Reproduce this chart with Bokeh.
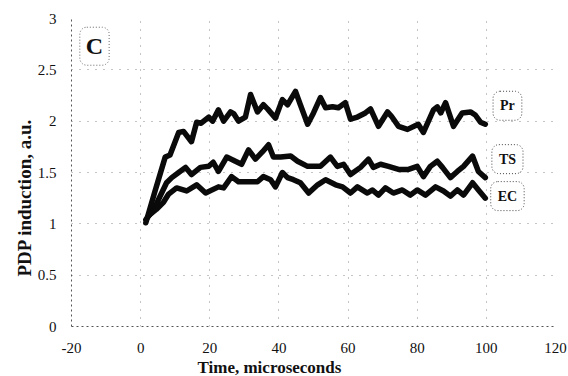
from bokeh.plotting import figure
from bokeh.models import Label, Title, FixedTicker, NumeralTickFormatter, Range1d
from bokeh.embed import file_html
from bokeh.resources import INLINE

# ---- data ----
pr_x = [1.5, 4, 7.1, 8.5, 11, 12.4, 14.7, 16.2, 17.5, 19.7, 20.8, 22.5, 24, 26, 27,
        28.3, 30.3, 31.8, 33.8, 35.5, 36.7, 39, 41, 42.5, 44.8, 46.2, 48.3, 50, 52, 53.5,
        55.5, 57.2, 59.2, 60.7, 62.7, 65, 66.5, 68.8, 71.4, 72.5, 74.6, 77.2, 80.3, 81.8,
        84.7, 85.8, 86.8, 88.2, 90.5, 93, 95.4, 96.8, 98.3, 99.7]
pr_y = [1.01, 1.30, 1.65, 1.67, 1.89, 1.90, 1.80, 1.99, 1.98, 2.04, 2.00, 2.11, 2.00, 2.09, 2.07,
        2.00, 2.04, 2.26, 2.09, 2.16, 2.12, 2.03, 2.21, 2.16, 2.29, 2.16, 1.97, 2.08, 2.23, 2.13,
        2.14, 2.13, 2.18, 2.02, 2.04, 2.08, 2.12, 1.95, 2.09, 2.05, 1.95, 1.92, 1.97, 1.89,
        2.11, 2.14, 2.08, 2.18, 1.95, 2.08, 2.09, 2.06, 1.99, 1.97]

ts_x = [1.5, 4, 5.2, 7.5, 9, 11, 13, 14.7, 17.3, 19.7, 21, 22.5, 24.9, 27.4, 29.2,
        31.2, 33.2, 35.2, 37, 38.4, 40.5, 43.4, 45.4, 48.3, 52, 54.9, 56.9, 58.7, 60.7, 63.6,
        65.9, 67.3, 69.4, 71.7, 74.6, 77.5, 80, 81.8, 83.8, 85.8, 87.3, 89.6, 91.6, 93.4, 96,
        97.7, 99.7]
ts_y = [1.04, 1.15, 1.24, 1.40, 1.45, 1.50, 1.55, 1.48, 1.55, 1.56, 1.60, 1.51, 1.65, 1.61, 1.58,
        1.72, 1.63, 1.70, 1.77, 1.65, 1.65, 1.66, 1.61, 1.56, 1.56, 1.65, 1.56, 1.58, 1.48, 1.55,
        1.63, 1.55, 1.58, 1.56, 1.53, 1.53, 1.56, 1.46, 1.56, 1.61, 1.55, 1.45, 1.51, 1.56, 1.66,
        1.51, 1.45]

ec_x = [2.3, 4.5, 6.6, 8.1, 10.4, 13.3, 16.2, 18.8, 22.5, 24, 26.3, 28.3, 31.2, 33.8, 35.5,
        37.6, 39, 41, 42.5, 44.2, 46.2, 48.6, 51.2, 53.5, 56.4, 58.4, 60.7, 62.7, 65.6, 67,
        68.8, 70.8, 73.1, 75.7, 78, 80, 82.4, 85.3, 87.6, 89.6, 91.6, 93.4, 96, 97.7, 99.7]
ec_y = [1.08, 1.14, 1.21, 1.29, 1.35, 1.32, 1.38, 1.30, 1.36, 1.35, 1.46, 1.41, 1.41, 1.41, 1.46,
        1.43, 1.36, 1.50, 1.45, 1.43, 1.40, 1.30, 1.38, 1.43, 1.38, 1.36, 1.30, 1.36, 1.30, 1.33,
        1.28, 1.35, 1.30, 1.33, 1.28, 1.33, 1.28, 1.36, 1.32, 1.27, 1.33, 1.28, 1.40, 1.33, 1.25]

series_names = ["Pr", "TS", "EC"]
x_ticks = [-20, 0, 20, 40, 60, 80, 100, 120]
y_ticks = [0, 0.5, 1, 1.5, 2, 2.5, 3]
x_title = "Time,  microseconds"
y_title = "PDP induction,  a.u."
panel_tag = "C"

SERIF = "Liberation Serif"
INK = "#111111"

p = figure(width=568, height=376, output_backend="svg", toolbar_location=None,
           x_range=Range1d(-20, 120), y_range=Range1d(0, 3),
           min_border_left=71, min_border_right=13, min_border_top=18, min_border_bottom=48)
p.outline_line_color = None
p.background_fill_color = "white"

for xs, ys in [(pr_x, pr_y), (ts_x, ts_y), (ec_x, ec_y)]:
    p.line(xs, ys, line_width=5.5, line_color="#0a0a0a", line_join="round", line_cap="round")

# axes
for ax in (p.xaxis[0], p.yaxis[0]):
    ax.axis_line_color = "#555555"
    ax.axis_line_dash = "2 3"
    ax.axis_line_width = 1
    ax.major_tick_line_color = None
    ax.minor_tick_line_color = None
    ax.major_label_text_font = SERIF
    ax.major_label_text_font_size = "15px"
    ax.major_label_text_color = INK

p.xaxis.ticker = FixedTicker(ticks=x_ticks)
p.yaxis.ticker = FixedTicker(ticks=y_ticks)
p.xaxis.formatter = NumeralTickFormatter(format="0")
p.yaxis.formatter = NumeralTickFormatter(format="0.[0]")
p.xaxis.major_label_standoff = 10
p.yaxis.major_label_standoff = 9

# grid
p.xgrid.ticker = FixedTicker(ticks=[0, 20, 40, 60, 80, 100, 120])
p.ygrid.ticker = FixedTicker(ticks=[0.5, 1, 1.5, 2, 2.5, 3])
for g in (p.xgrid[0], p.ygrid[0]):
    g.grid_line_color = "#8a8a8a"
    g.grid_line_dash = "1 7"
    g.grid_line_width = 1

# axis titles as side titles so they can be shifted like the reference
p.add_layout(Title(text=x_title, align="left", offset=126, standoff=0,
                   text_font=SERIF, text_font_style="bold", text_font_size="17px",
                   text_color=INK), "below")
p.add_layout(Title(text=y_title, align="left", offset=50, standoff=0,
                   text_font=SERIF, text_font_style="bold", text_font_size="19px",
                   text_color=INK), "left")

# series labels in rounded dotted boxes
label_pos = [(106.1, 2.15), (106.1, 1.63), (106.1, 1.27)]
for name, (lx, ly) in zip(series_names, label_pos):
    p.add_layout(Label(x=lx, y=ly, text=name, text_align="center", text_baseline="middle",
                       text_font=SERIF, text_font_style="bold", text_font_size="14px",
                       text_color=INK,
                       border_line_color="#444444", border_line_dash="1 2",
                       border_line_width=1, border_radius=7, padding=7,
                       background_fill_color="white"))

p.add_layout(Label(x=-13.35, y=2.73, text=panel_tag, text_align="center", text_baseline="middle",
                   text_font=SERIF, text_font_style="bold", text_font_size="24px",
                   text_color=INK,
                   border_line_color="#666666", border_line_dash="1 2",
                   border_line_width=1, border_radius=7, padding=6))

open("out.html", "w").write(file_html(p, INLINE))
